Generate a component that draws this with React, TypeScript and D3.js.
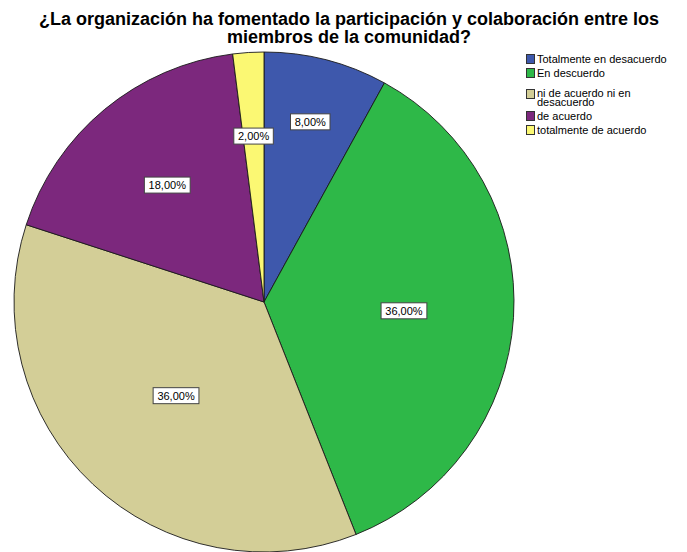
import React from "react";
import * as d3 from "d3";

const categories = [
  "Totalmente en desacuerdo",
  "En descuerdo",
  "ni de acuerdo ni en desacuerdo",
  "de acuerdo",
  "totalmente de acuerdo",
];
const percents = [8, 36, 36, 18, 2];
const colors = ["#3e58ac", "#2eb848", "#d3ce97", "#7c287d", "#fbf873"];
// legend text is wrapped the same way as in the original
const legendLines = [
  ["Totalmente en desacuerdo"],
  ["En descuerdo"],
  ["ni de acuerdo ni en", "desacuerdo"],
  ["de acuerdo"],
  ["totalmente de acuerdo"],
];
// how far out each label sits, as a share of the radius
const labelRadius = [0.744, 0.561, 0.514, 0.607, 0.665];

const W = 687;
const H = 552;
const cx = 264;
const cy = 302;
const R = 250;

export default function App() {
  const pie = d3
    .pie<number>()
    .sort(null)
    .value((d) => d);
  const arcs = pie(percents);
  const arc = d3.arc<d3.PieArcDatum<number>>().innerRadius(0).outerRadius(R);
  const fmt = (v: number) => v.toFixed(2).replace(".", ",") + "%";

  // legend rows, y is the swatch centre
  let y = 59;
  const legendRows = legendLines.map((lines, i) => {
    const multi = lines.length > 1;
    if (multi) y += 7;
    const row = { y, lines, i, multi };
    y += multi ? 22 : 14;
    return row;
  });

  return (
    <svg
      width={W}
      height={H}
      style={{ position: "absolute", left: 0, top: 0, background: "#fff" }}
      fontFamily="'Liberation Sans', Arial, sans-serif"
    >
      <text
        x={349}
        y={24.5}
        textAnchor="middle"
        fontSize={18}
        fontWeight="bold"
        fill="#000"
      >
        ¿La organización ha fomentado la participación y colaboración entre los
      </text>
      <text
        x={349}
        y={42.5}
        textAnchor="middle"
        fontSize={18}
        fontWeight="bold"
        fill="#000"
      >
        miembros de la comunidad?
      </text>

      <g transform={`translate(${cx},${cy})`}>
        {arcs.map((a, i) => (
          <path
            key={categories[i]}
            d={arc(a) || ""}
            fill={colors[i]}
            stroke="#1a1a1a"
            strokeWidth={0.9}
          />
        ))}
        {arcs.map((a, i) => {
          const mid = (a.startAngle + a.endAngle) / 2;
          const r = R * labelRadius[i];
          const x = Math.sin(mid) * r;
          const yy = -Math.cos(mid) * r;
          const label = fmt(a.data);
          const bw = label.length * 6.3 + 8;
          return (
            <g key={"l" + i} transform={`translate(${x},${yy})`}>
              <rect
                x={-bw / 2}
                y={-8}
                width={bw}
                height={16}
                fill="#fff"
                stroke="#444"
                strokeWidth={1}
              />
              <text
                textAnchor="middle"
                dy="0.36em"
                fontSize={11}
                fill="#000"
              >
                {label}
              </text>
            </g>
          );
        })}
      </g>

      <g>
        {legendRows.map((row) => (
          <g key={"lg" + row.i}>
            <rect
              x={526.5}
              y={row.y - 4.5}
              width={8}
              height={9}
              fill={colors[row.i]}
              stroke="#333"
              strokeWidth={1}
            />
            {row.lines.map((ln, k) => (
              <text
                key={k}
                x={537}
                y={row.y + (row.multi ? 2.5 : 4) + k * 9.5}
                fontSize={11}
                fill="#000"
              >
                {ln}
              </text>
            ))}
          </g>
        ))}
      </g>
    </svg>
  );
}
